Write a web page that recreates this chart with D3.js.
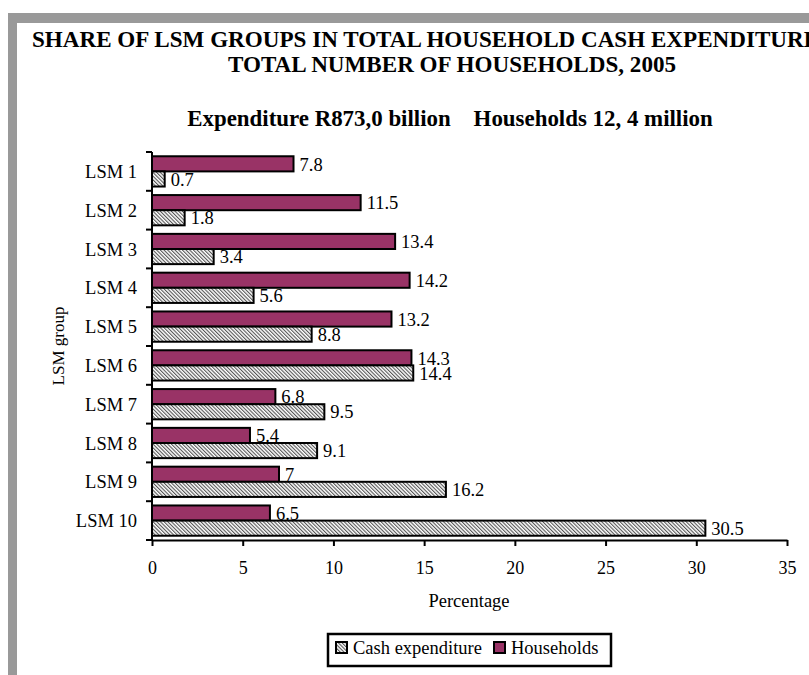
<!DOCTYPE html>
<html>
<head>
<meta charset="utf-8">
<script src="https://cdn.jsdelivr.net/npm/d3@7.8.5/dist/d3.min.js"></script>
<style>
  body { margin: 0; background: #fff; }
  svg { display: block; }
</style>
</head>
<body>
<div id="chart"></div>
<script>
    // Данные
    const groups = ['LSM 1', 'LSM 2', 'LSM 3', 'LSM 4', 'LSM 5', 'LSM 6', 'LSM 7', 'LSM 8', 'LSM 9', 'LSM 10'];
    const households = [7.8, 11.5, 13.4, 14.2, 13.2, 14.3, 6.8, 5.4, 7, 6.5];
    const cashExpenditure = [0.7, 1.8, 3.4, 5.6, 8.8, 14.4, 9.5, 9.1, 16.2, 30.5];
    const xTicks = [0, 5, 10, 15, 20, 25, 30, 35];
    const seriesNames = ['Households', 'Cash expenditure'];

(function() {
    'use strict';

    const width = 809, height = 675;
    const plotLeft = 152, plotRight = 787, plotTop = 152, plotBottom = 540;
    const FONT = 'Liberation Serif';

    const svg = d3.select('#chart').append('svg')
        .attr('width', width)
        .attr('height', height)
        .attr('font-family', FONT);

    // Штриховка для расходов
    const defs = svg.append('defs');
    const pat = defs.append('pattern')
        .attr('id', 'hatch')
        .attr('patternUnits', 'userSpaceOnUse')
        .attr('width', 2.6).attr('height', 2.6)
        .attr('patternTransform', 'rotate(-45)');
    pat.append('rect').attr('width', 2.6).attr('height', 2.6).attr('fill', '#fff');
    pat.append('rect').attr('width', 1.1).attr('height', 2.6).attr('fill', '#555');

    // Серая рамка
    svg.append('rect').attr('x', 8).attr('y', 13).attr('width', width - 8).attr('height', 10).attr('fill', '#999');
    svg.append('rect').attr('x', 8).attr('y', 13).attr('width', 9).attr('height', height - 13).attr('fill', '#999');

    // Заголовки
    svg.append('text')
        .attr('x', 32).attr('y', 47)
        .attr('font-weight', 'bold').attr('font-size', 23.1)
        .text('SHARE OF LSM GROUPS IN TOTAL HOUSEHOLD CASH EXPENDITURE AND');
    svg.append('text')
        .attr('x', 452).attr('y', 72)
        .attr('text-anchor', 'middle')
        .attr('font-weight', 'bold').attr('font-size', 23.1)
        .text('TOTAL NUMBER OF HOUSEHOLDS, 2005');
    svg.append('text')
        .attr('x', 450).attr('y', 126)
        .attr('text-anchor', 'middle')
        .attr('font-weight', 'bold').attr('font-size', 22.9)
        .attr('xml:space', 'preserve')
        .text('Expenditure R873,0 billion    Households 12, 4 million');

    const x = d3.scaleLinear().domain([0, 35]).range([plotLeft, plotRight]);
    const y = d3.scaleBand().domain(groups).range([plotTop, plotBottom]).paddingInner(0.22).paddingOuter(0.11);
    const ySub = d3.scaleBand().domain(seriesNames).range([0, y.bandwidth()]);

    const rows = groups.map((g, i) => ({ g, values: [
        { s: 'Households', v: households[i] },
        { s: 'Cash expenditure', v: cashExpenditure[i] }
    ] }));

    const rowG = svg.selectAll('g.row').data(rows).enter().append('g')
        .attr('class', 'row')
        .attr('transform', d => `translate(0,${y(d.g)})`);

    rowG.selectAll('rect').data(d => d.values).enter().append('rect')
        .attr('x', x(0))
        .attr('y', d => ySub(d.s))
        .attr('width', d => x(d.v) - x(0))
        .attr('height', ySub.bandwidth())
        .attr('fill', d => d.s === 'Households' ? '#993366' : 'url(#hatch)')
        .attr('stroke', '#000')
        .attr('stroke-width', 2);

    rowG.selectAll('text').data(d => d.values).enter().append('text')
        .attr('x', d => x(d.v) + 6)
        .attr('y', d => ySub(d.s) + ySub.bandwidth() / 2)
        .attr('dy', '0.36em')
        .attr('font-size', 18.5)
        .text(d => d.v);

    // Ось X
    const xAxis = svg.append('g')
        .attr('transform', `translate(0,${plotBottom})`)
        .call(d3.axisBottom(x).tickValues(xTicks).tickSize(6).tickSizeOuter(0).tickPadding(15));
    xAxis.attr('font-family', FONT).attr('font-size', 18);
    xAxis.select('.domain').attr('stroke-width', 2);
    xAxis.selectAll('.tick line').attr('stroke-width', 2);

    // Ось Y (деления между группами)
    svg.append('line')
        .attr('x1', plotLeft).attr('x2', plotLeft)
        .attr('y1', plotTop).attr('y2', plotBottom)
        .attr('stroke', '#000').attr('stroke-width', 2);
    const boundaries = groups.map(g => y(g) - y.step() * y.paddingOuter());
    boundaries.push(plotBottom);
    svg.selectAll('line.ytick').data(boundaries).enter().append('line')
        .attr('class', 'ytick')
        .attr('x1', plotLeft - 6).attr('x2', plotLeft)
        .attr('y1', d => d).attr('y2', d => d)
        .attr('stroke', '#000').attr('stroke-width', 2);

    svg.selectAll('text.ylab').data(groups).enter().append('text')
        .attr('class', 'ylab')
        .attr('x', 137)
        .attr('y', d => y(d) + y.bandwidth() / 2)
        .attr('dy', '0.36em')
        .attr('text-anchor', 'end')
        .attr('font-size', 18.5)
        .text(d => d);

    // Подписи осей
    svg.append('text')
        .attr('x', 469).attr('y', 607)
        .attr('text-anchor', 'middle')
        .attr('font-size', 18.5)
        .text('Percentage');
    svg.append('text')
        .attr('transform', 'translate(64,346) rotate(-90)')
        .attr('text-anchor', 'middle')
        .attr('font-size', 17)
        .text('LSM group');

    // Легенда
    const legend = svg.append('g');
    legend.append('rect')
        .attr('x', 328).attr('y', 634).attr('width', 283).attr('height', 32)
        .attr('fill', '#fff').attr('stroke', '#000').attr('stroke-width', 2.5);
    const legendItems = [
        { s: 'Cash expenditure', fill: 'url(#hatch)', x: 336 },
        { s: 'Households', fill: '#993366', x: 494 }
    ];
    legendItems.forEach(it => {
        legend.append('rect')
            .attr('x', it.x).attr('y', 642).attr('width', 11).attr('height', 11)
            .attr('fill', it.fill).attr('stroke', '#000').attr('stroke-width', 2);
        legend.append('text')
            .attr('x', it.x + 17).attr('y', 654)
            .attr('font-size', 18.5)
            .text(it.s);
    });
})();
</script>
</body>
</html>
